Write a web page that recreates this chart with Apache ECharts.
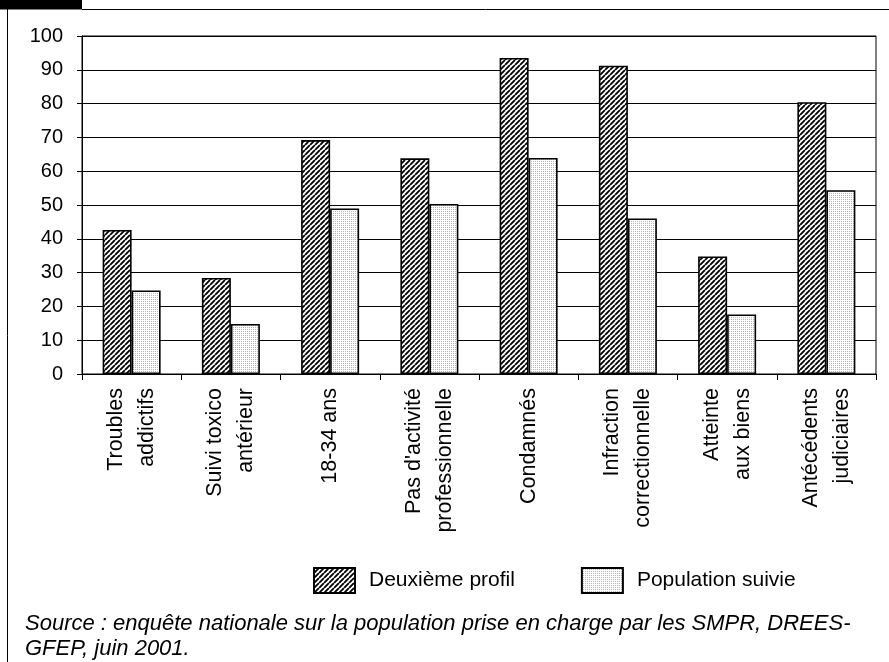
<!DOCTYPE html>
<html>
<head>
<meta charset="utf-8">
<script src="https://cdn.jsdelivr.net/npm/echarts@6/dist/echarts.min.js"></script>
<style>
  html, body { margin: 0; padding: 0; background: #fff; }
  #chart { width: 889px; height: 662px; }
</style>
</head>
<body>
<div id="chart"></div>
<script>
// Profile categories (x axis) and percentages for each population
const categories = [
  'Troubles\naddictifs',
  'Suivi toxico\nantérieur',
  '18-34 ans',
  "Pas d'activité\nprofessionnelle",
  'Condamnés',
  'Infraction\ncorrectionnelle',
  'Atteinte\naux biens',
  'Antécédents\njudiciaires'
];
const deuxiemeProfil = [42.6, 28.4, 69.2, 63.8, 93.5, 91.2, 34.8, 80.4];
const populationSuivie = [24.7, 14.8, 49.0, 50.3, 63.9, 46.0, 17.6, 54.4];
const seriesNames = ['Deuxième profil', 'Population suivie'];
const yTicks = { min: 0, max: 100, interval: 10 };
const sourceLines = [
  'Source : enquête nationale sur la population prise en charge par les SMPR, DREES-',
  'GFEP, juin 2001.'
];

const FONT = '"Liberation Sans", Arial, sans-serif';

// Diagonal hatch fill
function hatchPattern() {
  const c = document.createElement('canvas');
  const s = 5;
  c.width = s; c.height = s;
  const g = c.getContext('2d');
  g.fillStyle = '#fff';
  g.fillRect(0, 0, s, s);
  g.strokeStyle = '#000';
  g.lineWidth = 1.85;
  g.beginPath();
  for (let k = -1; k <= 1; k++) {
    g.moveTo(k * s, s);
    g.lineTo(k * s + s, 0);
  }
  g.stroke();
  return c;
}

// Fine dotted fill
function dotPattern() {
  const c = document.createElement('canvas');
  c.width = 2; c.height = 2;
  const g = c.getContext('2d');
  g.fillStyle = '#fff';
  g.fillRect(0, 0, 2, 2);
  g.fillStyle = '#b4b4b4';
  g.fillRect(1, 1, 1, 1);
  return c;
}

const chart = echarts.init(document.getElementById('chart'), null, { renderer: 'canvas' });

const barStyle = (img) => ({
  color: { image: img, repeat: 'repeat' },
  borderColor: '#000',
  borderWidth: 1.6
});

chart.setOption({
  animation: false,
  backgroundColor: '#fff',
  grid: {
    left: 82, right: 13, top: 36, bottom: 288,
    show: true, borderColor: '#000', borderWidth: 1
  },
  legend: {
    left: 313, top: 567,
    padding: 0,
    itemWidth: 41, itemHeight: 25,
    itemGap: 66,
    icon: 'rect',
    data: seriesNames,
    textStyle: { fontFamily: FONT, fontSize: 21, color: '#000', padding: [0, 0, 0, 9] }
  },
  xAxis: {
    type: 'category',
    data: categories,
    boundaryGap: true,
    axisLine: { lineStyle: { color: '#000', width: 1 } },
    axisTick: { show: true, length: 6, lineStyle: { color: '#000' } },
    axisLabel: {
      rotate: 90,
      margin: 14,
      interval: 0,
      fontFamily: FONT,
      fontSize: 21.5,
      lineHeight: 31,
      color: '#000'
    }
  },
  yAxis: {
    type: 'value',
    min: yTicks.min, max: yTicks.max, interval: yTicks.interval,
    axisLine: { show: true, lineStyle: { color: '#000', width: 1 } },
    axisTick: { show: true, length: 5, lineStyle: { color: '#000' } },
    axisLabel: { margin: 19, fontFamily: FONT, fontSize: 20, color: '#000' },
    splitLine: { show: true, lineStyle: { color: '#000', width: 1 } }
  },
  series: [
    {
      name: seriesNames[0],
      type: 'bar',
      data: deuxiemeProfil,
      barWidth: 29,
      barGap: '0%',
      itemStyle: barStyle(hatchPattern())
    },
    {
      name: seriesNames[1],
      type: 'bar',
      data: populationSuivie,
      barWidth: 29,
      itemStyle: barStyle(dotPattern())
    }
  ],
  graphic: [
    { type: 'rect', shape: { x: 0, y: 0, width: 82, height: 9.5 }, style: { fill: '#000' }, silent: true },
    { type: 'line', shape: { x1: 82, y1: 9.5, x2: 889, y2: 9.5 }, style: { stroke: '#000', lineWidth: 1 }, silent: true },
    { type: 'line', shape: { x1: 7.5, y1: 9, x2: 7.5, y2: 662 }, style: { stroke: '#000', lineWidth: 1 }, silent: true },
    {
      type: 'text', x: 25, y: 624, silent: true,
      style: { text: sourceLines[0], font: 'italic 22px ' + FONT, fill: '#000', verticalAlign: 'middle' }
    },
    {
      type: 'text', x: 25, y: 649, silent: true,
      style: { text: sourceLines[1], font: 'italic 22px ' + FONT, fill: '#000', verticalAlign: 'middle' }
    }
  ]
});
</script>
</body>
</html>
